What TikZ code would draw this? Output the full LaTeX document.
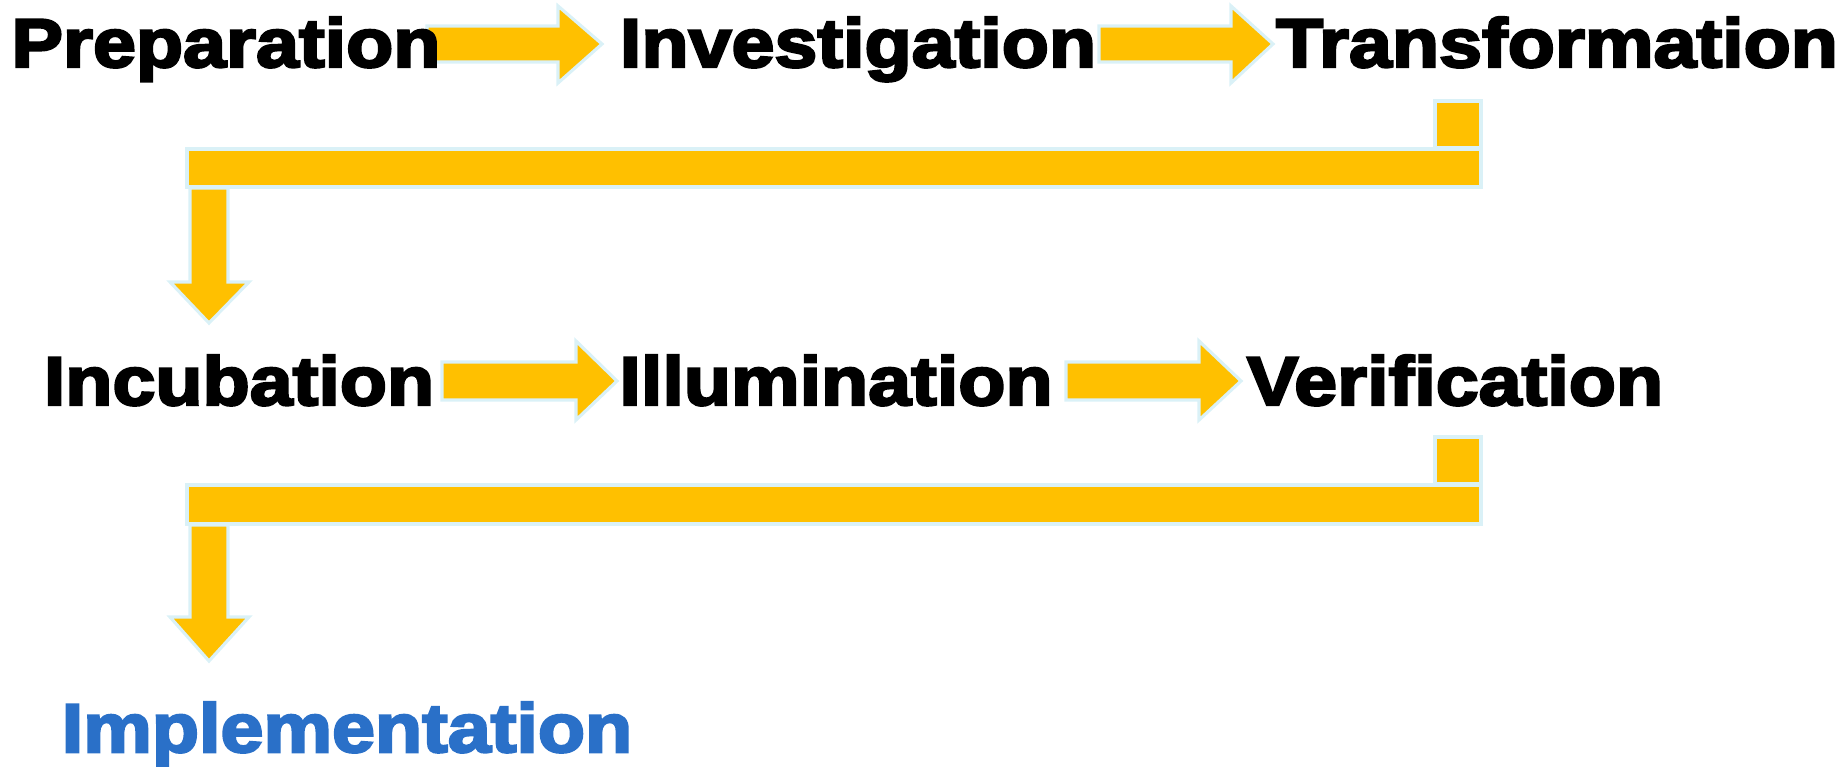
\documentclass[tikz,border=0pt]{standalone}
\usepackage{fontspec}
\usepackage{tikz}
\usetikzlibrary{positioning,calc}
\newfontfamily\heavyfont{Liberation Sans Bold}[FakeBold=3.6,FakeStretch=1.12]
\definecolor{ArrowGold}{RGB}{255,192,0}
\definecolor{EdgeCyan}{RGB}{218,241,247}
\definecolor{ImplBlue}{RGB}{42,112,200}
\tikzset{
  stage/.style={anchor=base,inner sep=0pt,font=\heavyfont\fontsize{19.6}{21}\selectfont},
  blk/.style={fill=ArrowGold,draw=EdgeCyan,line width=0.9pt,line join=miter},
}

\begin{document}
\begin{tikzpicture}[x=0.01cm,y=-0.01cm]
\useasboundingbox (0,0) rectangle (1843,767);
% first row
\draw[blk] (427,26)--(558,26)--(558,6)--(602,44)--(558,83)--(558,62)--(427,62)--cycle;
\draw[blk] (1099,26)--(1231,26)--(1231,6)--(1273,44)--(1231,83)--(1231,62)--(1099,62)--cycle;
% turn down to second row
\draw[blk] (1435,101) rectangle (1481,148);
\draw[blk] (187,149) rectangle (1481,187);
\draw[blk] (190,188)--(228,188)--(228,282)--(249,282)--(209,323)--(170,282)--(190,282)--cycle;
% second row
\draw[blk] (442,362)--(576,362)--(576,341)--(617,381)--(576,420)--(576,400)--(442,400)--cycle;
\draw[blk] (1066,362)--(1199,362)--(1199,341)--(1241,381)--(1199,420)--(1199,400)--(1066,400)--cycle;
% turn down to last stage
\draw[blk] (1435,437) rectangle (1481,484);
\draw[blk] (187,485) rectangle (1481,524);
\draw[blk] (190,525)--(228,525)--(228,617)--(249,617)--(209,661)--(170,617)--(190,617)--cycle;
% stages
\node[stage] (prep) at (226,67) {Preparation};
\node[stage] (invest) at (858,67) {Investigation};
\node[stage] (transf) at (1557,67) {Transformation};
\node[stage] (incub) at (239,405) {Incubation};
\node[stage] (illum) at (836,405) {Illumination};
\node[stage] (verif) at (1455,405) {Verification};
\node[stage,text=ImplBlue] (impl) at (347,752) {Implementation};
\end{tikzpicture}
\end{document}
